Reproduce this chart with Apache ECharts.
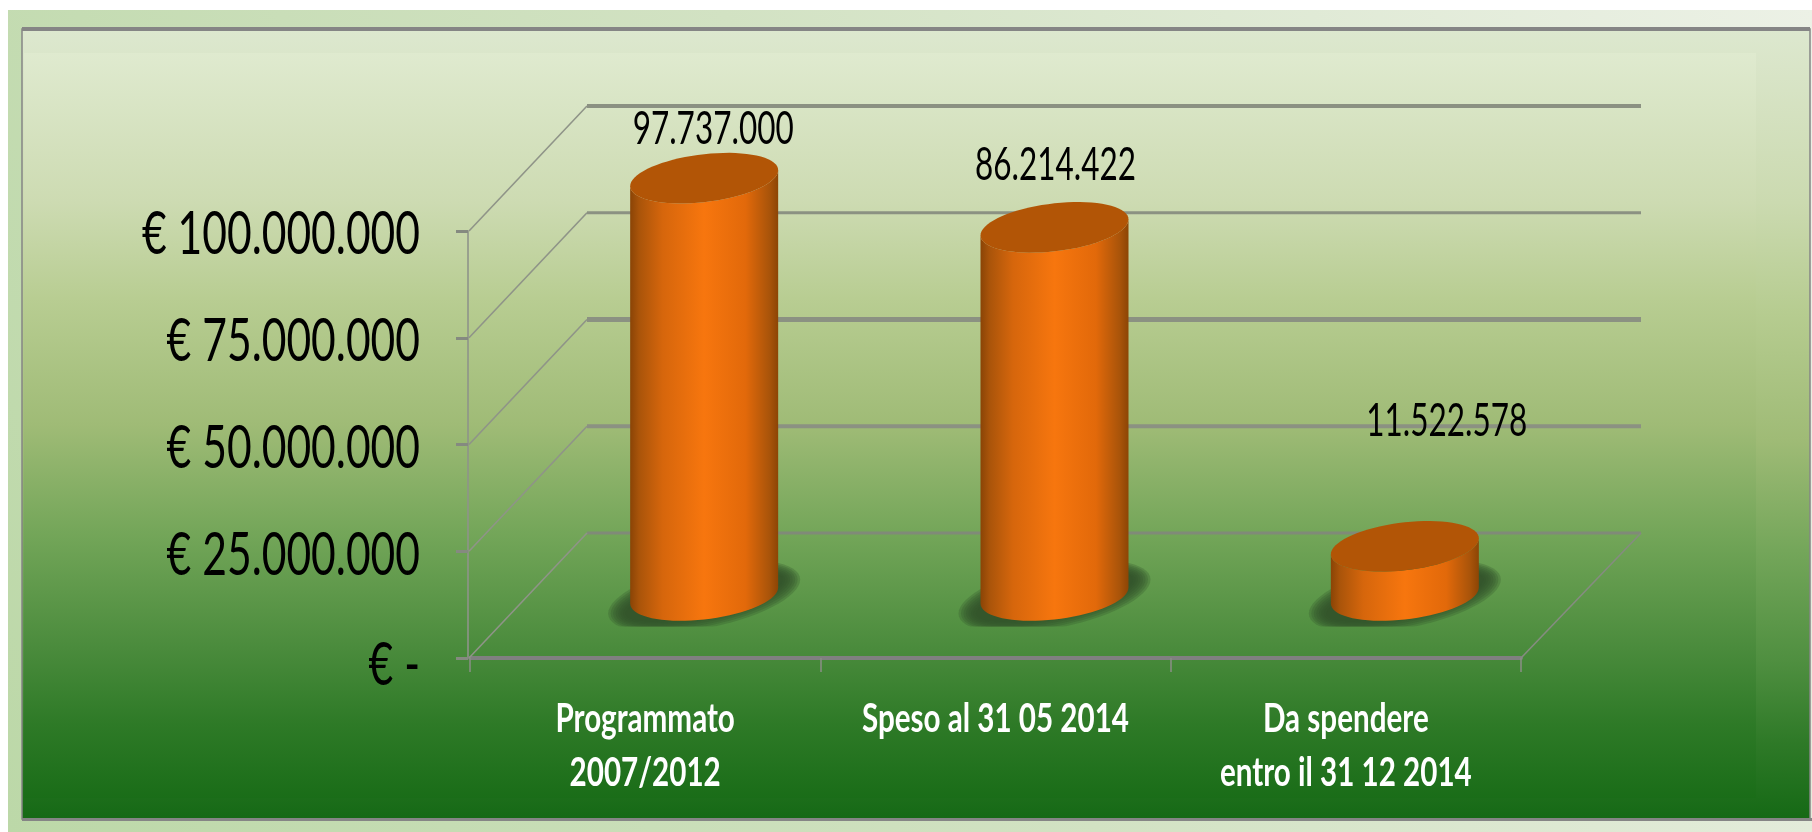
<!DOCTYPE html>
<html><head><meta charset="utf-8">
<style>html,body{margin:0;padding:0;background:#fff}#c{width:1812px;height:832px}</style>
<script src="https://cdn.jsdelivr.net/npm/echarts@6/dist/echarts.min.js"></script>
</head><body><div id="c"></div>
<script>
const categories = ['Programmato\n2007/2012', 'Speso al 31 05 2014', 'Da spendere\nentro il 31 12 2014'];
const values = [97737000, 86214422, 11522578];
const valueLabels = ['97.737.000', '86.214.422', '11.522.578'];
const tickValues = [0, 25000000, 50000000, 75000000, 100000000];
const tickLabels = ['€ -', '€ 25.000.000', '€ 50.000.000', '€ 75.000.000', '€ 100.000.000'];

// styling constants of the pseudo 3D box
const DX = 118, DY = -125;
const R = 74, RY = 24, SHEAR = 8;
const FONT = 'Lato,"Liberation Sans",sans-serif';
const gridWidths = [3, 4, 5, 3, 4];
const labelOffsets = [[9, -49], [1, -62], [42, -125]];

function ell(cx, cy, a, b, k, from, to, n) {
  const p = [];
  for (let i = 0; i <= n; i++) {
    const t = from + (to - from) * i / n;
    p.push([cx + a * Math.cos(t), cy + b * Math.sin(t) - k * Math.cos(t)]);
  }
  return p;
}
const orange = new echarts.graphic.LinearGradient(0, 0, 1, 0, [
  {offset: 0, color: '#8a4406'}, {offset: .06, color: '#a9540a'}, {offset: .22, color: '#d6660c'},
  {offset: .5, color: '#f7760e'}, {offset: .78, color: '#e2690a'}, {offset: .94, color: '#a9540a'}, {offset: 1, color: '#8c4505'}
]);

function renderFrame(params, api) {
  const v = api.value(0);
  const i = params.dataIndex;
  const cs = params.coordSys;
  const y = api.coord([0, v])[1];
  const a = [cs.x - 1, y];
  const b = [a[0] + DX, y + DY];
  const end = [cs.x + cs.width + DX + 2, b[1]];
  const line = (p, q, w, c) => ({type: 'line', shape: {x1: p[0], y1: p[1], x2: q[0], y2: q[1]}, style: {stroke: c, lineWidth: w}});
  const ch = [
    line(b, end, gridWidths[i], i === 0 ? '#808a78' : '#8b9182'),
    line(a, b, 1.6, '#8f9488'),
    {type: 'text', x: cs.x - 50, y: y + (i === 0 ? 8 : 4), scaleX: 0.71,
      style: {text: tickLabels[i], font: '60px ' + FONT, fill: '#000', textAlign: 'right', textVerticalAlign: 'middle'}}
  ];
  if (i === 0) ch.push(line([cs.x + cs.width, y], [cs.x + cs.width + DX + 2, y + DY], 1.6, '#858c80'));
  return {type: 'group', children: ch};
}

function renderCategory(params, api) {
  const c = api.coord([params.dataIndex, 0]);
  return {type: 'text', x: c[0], y: c[1] + 34, scaleX: 0.74,
    style: {text: categories[params.dataIndex], font: 'bold 40px ' + FONT, lineHeight: 54, fill: '#fff', textAlign: 'center', textVerticalAlign: 'top'}};
}

function renderBar(params, api) {
  const idx = api.value(0), v = api.value(1);
  const top = api.coord([idx, v]), base = api.coord([idx, 0]);
  const cx = top[0] + DX / 2, cyT = top[1] + DY / 2, cyB = base[1] + DY / 2;
  const side = ell(cx, cyB, R, RY, SHEAR, 0, Math.PI, 36)
    .concat(ell(cx, cyT, R, RY, SHEAR, Math.PI, 0, 36));
  const off = labelOffsets[params.dataIndex];
  const shadow = [];
  for (let s = 0; s < 8; s++) {
    shadow.push({type: 'polygon', shape: {points: ell(cx, cyB + 1, R + 22 - s * 2.5, RY + 8 - s * 2, 17, 0, Math.PI * 2, 64)},
      style: {fill: 'rgba(50,82,42,0.28)'}});
  }
  return {type: 'group', children: [
    {type: 'group', children: shadow,
      clipPath: {type: 'rect', shape: {x: cx - 200, y: cyB - 100, width: 400, height: 131}}},
    {type: 'polygon', shape: {points: side}, style: {fill: orange}},
    {type: 'polygon', shape: {points: ell(cx, cyT, R, RY, SHEAR, 0, Math.PI * 2, 72)}, style: {fill: '#b25506'}},
    {type: 'text', x: cx + off[0], y: cyT + off[1], scaleX: 0.685,
      style: {text: valueLabels[params.dataIndex], font: '46px ' + FONT, fill: '#000', textAlign: 'center', textVerticalAlign: 'middle'}}
  ]};
}

const chart = echarts.init(document.getElementById('c'), null, {renderer: 'canvas'});
const L = echarts.graphic.LinearGradient;
chart.setOption({
  animation: false,
  backgroundColor: '#fff',
  graphic: {elements: [
    {type: 'rect', z: -30, shape: {x: 8, y: 10, width: 1804, height: 822},
      style: {fill: new L(0, 1, 1, 0, [{offset: 0, color: '#bcd8a8'}, {offset: .5, color: '#d2e2c3'}, {offset: 1, color: '#ecf1e6'}])}},
    {type: 'rect', z: -29, shape: {x: 22, y: 29, width: 1788, height: 790},
      style: {stroke: '#858585', lineWidth: 1.5, fill: new L(0, 0, 0, 1, [
        {offset: 0, color: '#dde8cf'}, {offset: .22, color: '#cbdab0'}, {offset: .36, color: '#b6cc90'},
        {offset: .52, color: '#9fbb76'}, {offset: .66, color: '#74a65a'}, {offset: .8, color: '#4f8f40'},
        {offset: .9, color: '#2f7a28'}, {offset: 1, color: '#156915'}])}},
    {type: 'rect', z: -28, shape: {x: 24, y: 53, width: 1732, height: 745},
      style: {fill: new L(0, 0, 0, 1, [
        {offset: 0, color: '#dfeacf'}, {offset: .2, color: '#cddbb2'}, {offset: .33, color: '#b8cd92'},
        {offset: .5, color: '#9fbb76'}, {offset: .65, color: '#72a558'}, {offset: .8, color: '#4a8b3c'},
        {offset: .9, color: '#2e7a27'}, {offset: 1, color: '#1a6d18'}])}},
    {type: 'rect', z: -27, shape: {x: 22, y: 27, width: 1788, height: 4}, style: {fill: '#858585'}},
    {type: 'rect', z: -27, shape: {x: 22, y: 818, width: 1790, height: 3}, style: {fill: '#858585'}}
  ]},
  grid: {left: 470, right: 291, top: 231, bottom: 174, containLabel: false},
  xAxis: {
    type: 'category', data: categories, boundaryGap: true,
    axisLine: {show: true, lineStyle: {color: '#808080', width: 4}},
    axisTick: {show: true, alignWithLabel: false, length: 14, lineStyle: {color: '#8a8f86', width: 1.5}},
    axisLabel: {show: false}
  },
  yAxis: {
    type: 'value', min: 0, max: 100000000, interval: 25000000, offset: 2,
    splitLine: {show: false},
    axisLine: {show: true, lineStyle: {color: '#8f948a', width: 1.6}},
    axisTick: {show: true, length: 12, lineStyle: {color: '#858a80', width: 3}},
    axisLabel: {show: false}
  },
  series: [
    {type: 'custom', name: 'griglia', z: 1, silent: true, clip: false, renderItem: renderFrame,
      encode: {y: 0}, data: tickValues.map(v => [v])},
    {type: 'custom', name: 'categorie', z: 2, silent: true, clip: false, renderItem: renderCategory,
      data: categories.map((c, i) => [i])},
    {type: 'custom', name: 'valori', z: 3, clip: false, renderItem: renderBar,
      encode: {x: 0, y: 1}, data: values.map((v, i) => [i, v])}
  ]
});
</script></body></html>
